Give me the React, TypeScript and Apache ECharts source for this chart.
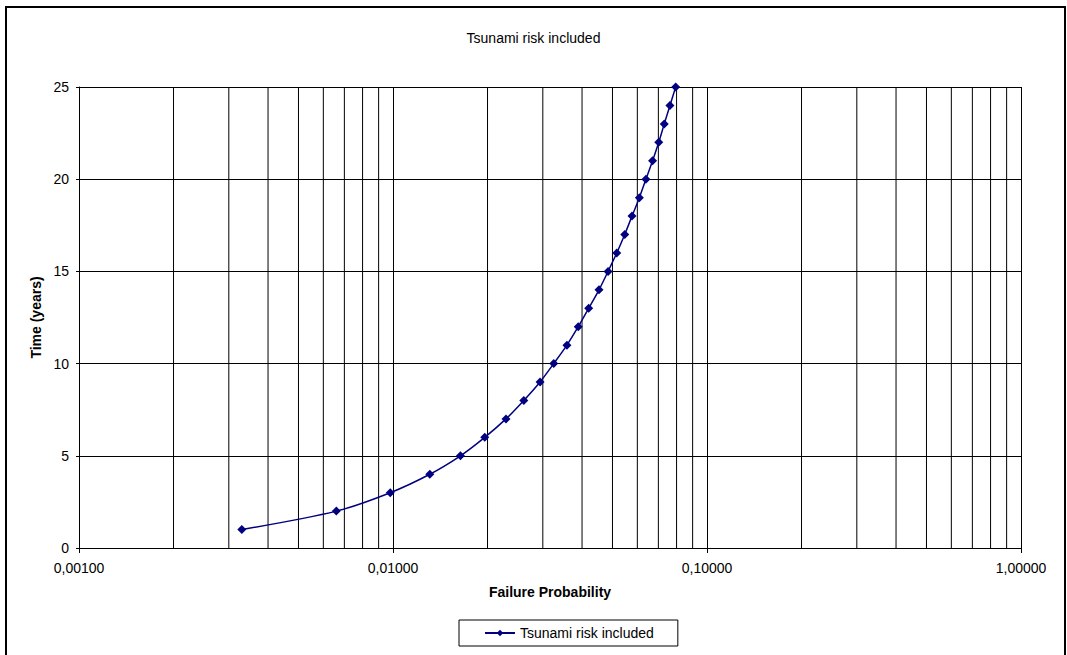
import React, { useEffect, useRef } from "react";
import * as echarts from "echarts";

// Failure probability (x) reached after each year of service (y)
const years = [1, 2, 3, 4, 5, 6, 7, 8, 9, 10, 11, 12, 13, 14, 15, 16, 17, 18, 19, 20, 21, 22, 23, 24, 25];
const failureProbability = [
  0.0033, 0.0066, 0.0098, 0.0131, 0.0164, 0.0196, 0.0229, 0.0261, 0.0294, 0.0325,
  0.0358, 0.0389, 0.042, 0.0453, 0.0484, 0.0516, 0.0547, 0.0577, 0.0609, 0.0639,
  0.0671, 0.0702, 0.0731, 0.0762, 0.0795,
];

// Minor vertical grid positions of the logarithmic axis (2..9 in each decade)
const minorGridValues = [
  0.002, 0.003, 0.004, 0.005, 0.006, 0.007, 0.008, 0.009,
  0.02, 0.03, 0.04, 0.05, 0.06, 0.07, 0.08, 0.09,
  0.2, 0.3, 0.4, 0.5, 0.6, 0.7, 0.8, 0.9,
];

const Y_MIN = 0;
const Y_MAX = 25;

const seriesName = "Tsunami risk included";
const titleText = "Tsunami risk included";
const xAxisTitle = "Failure Probability";
const yAxisTitle = "Time (years)";

const FONT = "'Liberation Sans', Arial, sans-serif";
const FS = 14;

export default function App() {
  const ref = useRef<HTMLDivElement>(null);

  useEffect(() => {
    document.body.style.margin = "0";
    const chart = echarts.init(ref.current!, undefined, { renderer: "svg" });
    chart.setOption({
      animation: false,
      backgroundColor: "#ffffff",
      textStyle: { fontFamily: FONT },
      title: {
        text: titleText,
        left: "center",
        top: 26,
        textStyle: { fontFamily: FONT, fontSize: FS, fontWeight: "normal", color: "#000" },
      },
      graphic: [
        {
          type: "rect",
          shape: { x: 6, y: 7, width: 1059, height: 660 },
          style: { fill: "none", stroke: "#000", lineWidth: 2 },
          silent: true,
        },
      ],
      legend: {
        bottom: 9,
        left: 459,
        data: [seriesName],
        borderColor: "#000",
        borderWidth: 1,
        borderRadius: 0,
        padding: [6, 24, 6, 25],
        itemWidth: 30,
        itemHeight: 8,
        itemGap: 5,
        textStyle: { fontFamily: FONT, fontSize: FS, color: "#000", padding: [0, 0, 0, 0] },
      },
      grid: { left: 79, right: 46, top: 87, bottom: 107 },
      xAxis: {
        type: "log",
        logBase: 10,
        min: 0.001,
        max: 1,
        name: xAxisTitle,
        nameLocation: "middle",
        nameGap: 37,
        nameTextStyle: { fontFamily: FONT, fontSize: FS, fontWeight: "bold", color: "#000" },
        axisLine: { onZero: false, lineStyle: { color: "#000", width: 1 } },
        axisTick: { show: true, length: 5, lineStyle: { color: "#000" } },
        axisLabel: {
          fontFamily: FONT,
          fontSize: FS,
          color: "#000",
          margin: 13,
          formatter: (v: number) => v.toFixed(5).replace(".", ","),
        },
        splitLine: { show: true, lineStyle: { color: "#000", width: 1 } },
      },
      yAxis: {
        type: "value",
        min: Y_MIN,
        max: Y_MAX,
        interval: 5,
        name: yAxisTitle,
        nameLocation: "middle",
        nameGap: 35,
        nameTextStyle: { fontFamily: FONT, fontSize: FS, fontWeight: "bold", color: "#000" },
        axisLine: { show: true, lineStyle: { color: "#000", width: 1 } },
        axisTick: { show: true, length: 3, lineStyle: { color: "#000" } },
        axisLabel: { fontFamily: FONT, fontSize: FS, color: "#000", margin: 10 },
        splitLine: { show: true, lineStyle: { color: "#000", width: 1 } },
      },
      series: [
        {
          // minor vertical gridlines, placed through the log axis
          type: "custom",
          silent: true,
          z: 1,
          data: minorGridValues,
          encode: { x: 0 },
          renderItem: (params: any, api: any) => {
            const v = api.value(0);
            const p0 = api.coord([v, Y_MIN]);
            const p1 = api.coord([v, Y_MAX]);
            return {
              type: "line",
              shape: { x1: p0[0], y1: p0[1], x2: p1[0], y2: p1[1] },
              style: { stroke: "#000", lineWidth: 1 },
            };
          },
        },
        {
          name: seriesName,
          type: "line",
          data: failureProbability.map((p, i) => [p, years[i]]),
          smooth: 0.3,
          symbol: "diamond",
          symbolSize: 9,
          showAllSymbol: true,
          itemStyle: { color: "#000080" },
          lineStyle: { color: "#000080", width: 1.5 },
          z: 3,
        },
      ],
    });
    return () => chart.dispose();
  }, []);

  return (
    <div
      ref={ref}
      style={{ position: "absolute", left: 0, top: 0, width: 1067, height: 655 }}
    />
  );
}
